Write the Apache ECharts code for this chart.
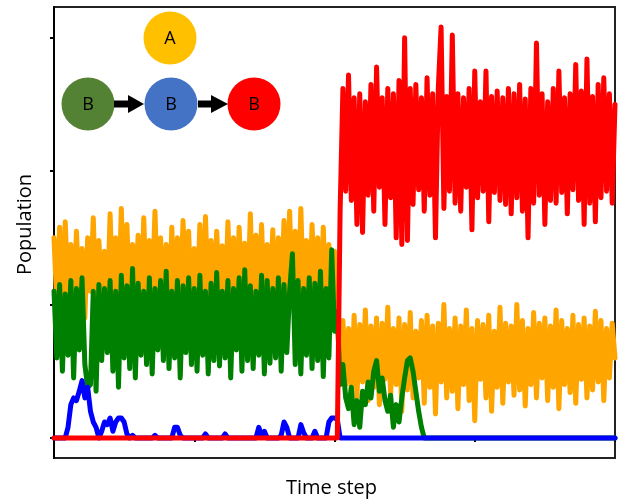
<!DOCTYPE html>
<html><head><meta charset="utf-8">
<script src="https://cdn.jsdelivr.net/npm/echarts@6/dist/echarts.min.js"></script>
<style>html,body{margin:0;padding:0;background:#fff}#c{width:619px;height:502px}</style>
</head><body><div id="c"></div><script>
// time step between samples (x axis in arbitrary time units)
const timeStepSize = 5;
const xTickValues = [0, 250, 500, 750, 1000];
const yTickValues = [0, 100, 200, 300];

// Species A (orange)
const orangeA = [
 150,100,158,95,162,108,145,92,155,105,
 142,90,150,110,165,98,148,104,140,96,
 168,102,150,94,172,108,160,98,145,110,
 152,92,165,100,148,106,170,96,150,104,
 145,90,158,102,150,96,163,108,155,94,
 142,100,160,92,166,104,148,98,155,110,
 144,96,162,102,150,92,158,106,146,100,
 168,94,152,108,160,98,145,104,156,92,
 150,100,163,96,170,106,155,94,172,102,
 148,98,160,104,150,92,158,100,145,96,
 140,90,
 45,88,40,82,35,92,30,85,42,96,
 28,84,38,90,25,86,44,98,32,82,
 40,90,20,85,36,94,30,80,45,88,
 26,92,38,84,18,86,42,100,30,82,
 35,90,22,84,40,96,28,82,13,88,
 44,85,30,92,20,80,38,98,26,86,
 42,84,32,100,36,88,24,82,40,94,
 30,86,45,90,28,84,38,96,22,88,
 40,82,34,92,26,85,44,90,30,84,
 36,95,42,88,28,82,45,86,60
];

// Species B, first state (green)
const greenB = [
 110,60,115,50,108,62,118,45,112,66,
 120,55,38,40,110,35,115,58,112,64,
 118,50,110,38,122,60,114,52,127,45,
 116,62,110,55,120,48,112,66,118,58,
 125,52,110,60,118,45,114,64,120,55,
 112,50,122,62,110,48,116,58,124,54,
 110,60,118,45,112,66,120,50,126,58,
 114,52,110,62,122,48,118,56,112,60,
 120,50,115,64,110,138,55,118,48,112,
 62,120,52,116,58,125,46,112,60,141,
 80,95,
 40,55,30,22,38,10,28,8,35,25,
 42,30,50,58,35,45,28,20,32,8,
 25,12,30,45,58,60,50,35,20,8,
 0,0,0,0,0,0,0,0,0,0,
 0,0,0,0,0,0,0,0,0,0,
 0,0,0,0,0,0,0,0,0,0,
 0,0,0,0,0,0,0,0,0,0,
 0,0,0,0,0,0,0,0,0,0,
 0,0,0,0,0,0,0,0,0,0,
 0,0,0,0,0,0,0,0,0
];

// Species B, intermediate state (blue)
const blueB = [
 0,0,0,0,0,
 8,25,30,28,35,43,30,38,20,12,8,
 0,5,12,10,15,5,12,15,15,12,3,0,2,0,
 0,0,0,0,0,0,2,0,0,0,
 0,0,0,8,8,2,0,0,0,0,
 0,0,0,0,3,0,0,0,0,0,
 0,3,0,0,0,0,0,0,0,0,
 0,0,0,8,2,5,0,0,0,0,
 0,2,12,8,0,0,0,0,10,4,
 0,0,0,5,0,0,0,0,12,15,
 15,14,
 0,0,0,0,0,0,0,0,0,0,
 0,0,0,0,0,0,0,0,0,0,
 0,0,0,0,0,0,0,0,0,0,
 0,0,0,0,0,0,0,0,0,0,
 0,0,0,0,0,0,0,0,0,0,
 0,0,0,0,0,0,0,0,0,0,
 0,0,0,0,0,0,0,0,0,0,
 0,0,0,0,0,0,0,0,0,0,
 0,0,0,0,0,0,0,0,0,0,
 0,0,0,0,0,0,0,0,0
];

// Species B, final state (red)
const redB = [
 0,0,0,0,0,0,0,0,0,0,
 0,0,0,0,0,0,0,0,0,0,
 0,0,0,0,0,0,0,0,0,0,
 0,0,0,0,0,0,0,0,0,0,
 0,0,0,0,0,0,0,0,0,0,
 0,0,0,0,0,0,0,0,0,0,
 0,0,0,0,0,0,0,0,0,0,
 0,0,0,0,0,0,0,0,0,0,
 0,0,0,0,0,0,0,0,0,0,
 0,0,0,0,0,0,0,0,0,0,
 0,0,
 170,262,185,272,178,255,160,258,154,252,
 182,265,170,278,188,255,160,262,180,258,
 150,268,145,300,148,262,175,265,186,255,
 170,270,182,258,150,262,308,172,256,185,
 302,176,258,170,255,188,262,156,275,180,
 252,185,275,162,256,184,260,178,255,175,
 262,168,258,180,265,170,254,150,262,176,
 296,182,258,160,252,178,262,176,275,184,
 255,168,258,186,280,178,260,160,284,176,
 256,162,265,180,270,185,258,176,250
];

function toPairs(arr){ return arr.map((v, i) => [i * timeStepSize, v]); }

const chart = echarts.init(document.getElementById('c'), null, {renderer: 'canvas'});
const font = '"Open Sans", "DejaVu Sans", sans-serif';
function line(name, data, color){
  return {name, type:'line', data: toPairs(data), showSymbol:false, symbol:'none',
    lineStyle:{color, width:5, join:'round', cap:'round'}, itemStyle:{color}, animation:false};
}
const arrowY = 104;
chart.setOption({
  animation:false,
  backgroundColor:'#fff',
  grid:{left:54, right:4, top:7, bottom:44, show:true, borderColor:'#222', borderWidth:2, outerBoundsMode:'none'},
  xAxis:{type:'value', min:0, max:1000,
    name:'Time step', nameLocation:'middle', nameGap:20,
    nameTextStyle:{fontFamily:font, fontSize:20, color:'#000', padding:[0,6,0,0]},
    axisLine:{show:true, lineStyle:{color:'#000', width:2}},
    axisTick:{show:true, customValues:xTickValues, length:4, inside:false, lineStyle:{color:'#000', width:2}},
    axisLabel:{show:false}, splitLine:{show:false}},
  yAxis:{type:'value', min:-15, max:323,
    name:'Population', nameLocation:'middle', nameGap:19,
    nameTextStyle:{fontFamily:font, fontSize:20, color:'#000', padding:[0,0,0,16]},
    axisLine:{show:true, lineStyle:{color:'#000', width:2}},
    axisTick:{show:true, customValues:yTickValues, length:4, inside:false, lineStyle:{color:'#000', width:2}},
    axisLabel:{show:false}, splitLine:{show:false}},
  series:[
    line('A', orangeA, '#FFA500'),
    line('B1', greenB, '#008000'),
    line('B2', blueB, '#0000FF'),
    line('B3', redB, '#FF0000')
  ],
  graphic:[
    {type:'circle', shape:{cx:170, cy:38, r:26.5}, style:{fill:'#FFC000'}, z:100},
    {type:'text', x:170, y:39, style:{text:'A', font:'18px ' + font, fill:'#000', align:'center', verticalAlign:'middle'}, z:101},
    {type:'circle', shape:{cx:88, cy:arrowY, r:26.5}, style:{fill:'#548235'}, z:100},
    {type:'text', x:88, y:arrowY+1, style:{text:'B', font:'18px ' + font, fill:'#000', align:'center', verticalAlign:'middle'}, z:101},
    {type:'circle', shape:{cx:171, cy:arrowY, r:26.5}, style:{fill:'#4472C4'}, z:100},
    {type:'text', x:171, y:arrowY+1, style:{text:'B', font:'18px ' + font, fill:'#000', align:'center', verticalAlign:'middle'}, z:101},
    {type:'circle', shape:{cx:254, cy:arrowY, r:26.5}, style:{fill:'#FF0000'}, z:100},
    {type:'text', x:254, y:arrowY+1, style:{text:'B', font:'18px ' + font, fill:'#000', align:'center', verticalAlign:'middle'}, z:101},
    {type:'polygon', shape:{points:[[114,arrowY-3.5],[128,arrowY-3.5],[128,arrowY-9],[144,arrowY],[128,arrowY+9],[128,arrowY+3.5],[114,arrowY+3.5]]}, style:{fill:'#000'}, z:100},
    {type:'polygon', shape:{points:[[198,arrowY-3.5],[211,arrowY-3.5],[211,arrowY-9],[228,arrowY],[211,arrowY+9],[211,arrowY+3.5],[198,arrowY+3.5]]}, style:{fill:'#000'}, z:100}
  ]
});
</script></body></html>
